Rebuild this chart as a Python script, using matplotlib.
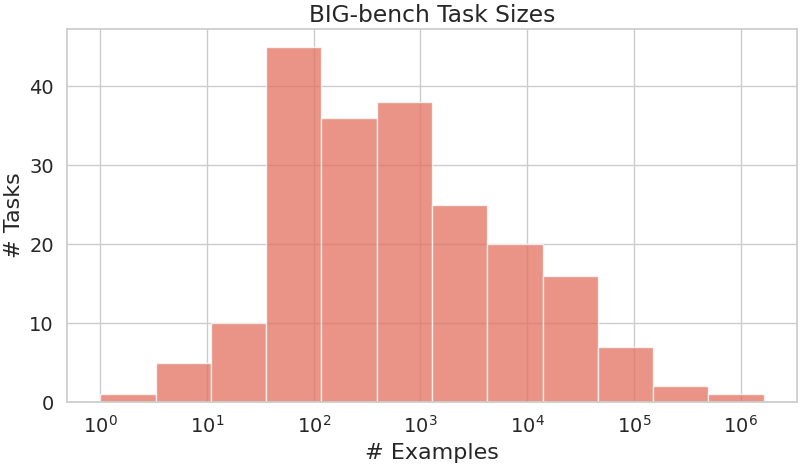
import numpy as np
import matplotlib
matplotlib.use("Agg")
import matplotlib.pyplot as plt
import seaborn as sns

# histogram of examples per task (log10 bin edges)
log_edges = [0.0, 0.518, 1.036, 1.554, 2.072, 2.590, 3.108,
             3.626, 4.144, 4.662, 5.180, 5.698, 6.216]
task_counts = [1, 5, 10, 45, 36, 38, 25, 20, 16, 7, 2, 1]

sns.set_theme(style="whitegrid", font_scale=1.25)

edges = 10 ** np.array(log_edges)
lefts = edges[:-1]
widths = np.diff(edges)

fig, ax = plt.subplots(figsize=(8.09, 4.66), dpi=100)
ax.bar(lefts, task_counts, width=widths, align="edge",
       color="#e2705e", alpha=0.75, edgecolor="white", linewidth=1)
ax.set_xscale("log")
ax.set_xlabel("# Examples", fontsize=16)
ax.set_ylabel("# Tasks", fontsize=16)
ax.set_title("BIG-bench Task Sizes", fontsize=16.8, pad=5)
ax.tick_params(labelsize=14)

fig.subplots_adjust(left=0.083, right=0.985, top=0.938, bottom=0.137)
fig.savefig("out.png", dpi=100)
